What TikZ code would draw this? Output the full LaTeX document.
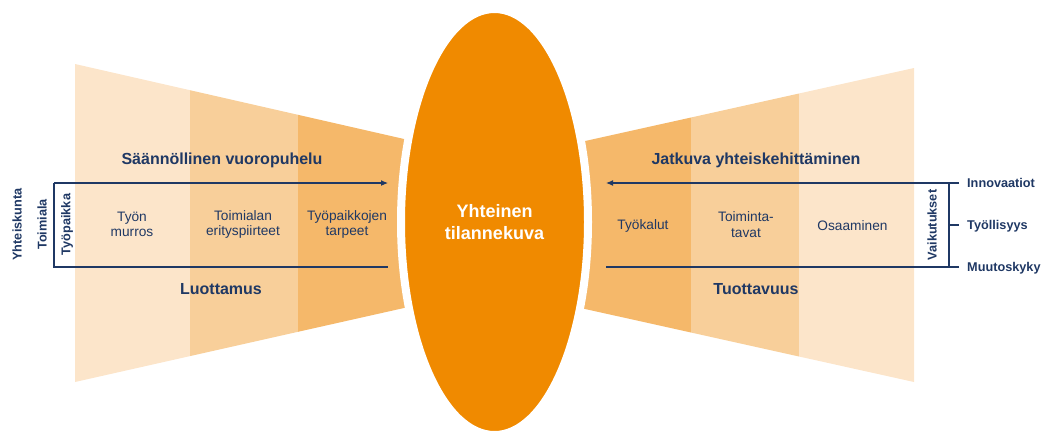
\documentclass[tikz,border=0pt]{standalone}
\usepackage{fontspec}
\setmainfont{Liberation Sans}
\usetikzlibrary{arrows.meta,shapes.geometric}
\definecolor{navy}{RGB}{31,56,100}
\definecolor{cLight}{RGB}{252,229,202}
\definecolor{cMed}{RGB}{248,207,154}
\definecolor{cDark}{RGB}{245,184,106}
\definecolor{cOrange}{RGB}{240,138,0}
\begin{document}
\begin{tikzpicture}[x=1pt,y=-1pt,
  hd/.style={text=navy,font=\fontsize{16}{19}\selectfont\bfseries,inner sep=0pt},
  body/.style={text=navy,font=\fontsize{13.7}{15.5}\selectfont,align=center,inner sep=0pt},
  side/.style={text=navy,font=\fontsize{12.7}{14}\selectfont\bfseries,inner sep=0pt},
  ln/.style={draw=navy,line width=1.1pt},
  tip/.style={-{Latex[length=7pt,width=6pt]}}]
\useasboundingbox (0,0) rectangle (1041,432);
% left trapezoid
\fill[cLight] (75,64) -- (190,90.2) -- (190,356.1) -- (75,382) -- cycle;
\fill[cMed] (190,90.2) -- (298,114.8) -- (298,331.8) -- (190,356.1) -- cycle;
\fill[cDark] (298,114.8) -- (412,140.8) -- (412,306.2) -- (298,331.8) -- cycle;
% right trapezoid
\fill[cDark] (577,142.8) -- (691,117.5) -- (691,332.5) -- (577,307.2) -- cycle;
\fill[cMed] (691,117.5) -- (799,93.5) -- (799,356.5) -- (691,332.5) -- cycle;
\fill[cLight] (799,93.5) -- (914,68) -- (914,382) -- (799,356.5) -- cycle;
% central ellipse
\node[ellipse,fill=cOrange,draw=white,line width=8pt,minimum width=187pt,minimum height=426pt,inner sep=0pt,
  text=white,font=\fontsize{18}{22}\selectfont\bfseries,align=center] (core) at (494.5,222) {Yhteinen\\tilannekuva};
% left texts
\node[hd] (sv) at (222,160) {Säännöllinen vuoropuhelu};
\node[hd] (lu) at (221,289) {Luottamus};
\node[body] (tm) at (132,224.5) {Työn\\murros};
\node[body] (te) at (243,224.5) {Toimialan\\erityspiirteet};
\node[body] (tt) at (347,224.5) {Työpaikkojen\\tarpeet};
\node[side,rotate=90] (tp) at (67,224.5) {Työpaikka};
\node[side,rotate=90] (ti) at (42,224.5) {Toimiala};
\node[side,rotate=90] (yk) at (17,224.5) {Yhteiskunta};
% left lines
\coordinate (la0) at (54,183);
\coordinate (la1) at (388,183);
\coordinate (lb0) at (54,267);
\coordinate (lb1) at (388,267);
\draw[ln,tip] (la0) -- (la1);
\draw[ln] (la0) -- (lb0) -- (lb1);
% right texts
\node[hd] (jy) at (756,160) {Jatkuva yhteiskehittäminen};
\node[hd] (tu) at (756,289) {Tuottavuus};
\node[body] (tk) at (643,226) {Työkalut};
\node[body] (tv) at (746,224.5) {Toiminta-\\tavat};
\node[body] (os) at (852.5,226) {Osaaminen};
\node[side,rotate=90] (va) at (932,225) {Vaikutukset};
\node[side,anchor=west] (in) at (967,183) {Innovaatiot};
\node[side,anchor=west] (ty) at (967,226) {Työllisyys};
\node[side,anchor=west] (mu) at (967,268) {Muutoskyky};
% right lines
\coordinate (ra0) at (959,183);
\coordinate (ra1) at (606,183);
\coordinate (rb0) at (959,267);
\coordinate (rb1) at (606,267);
\coordinate (rv0) at (949,183);
\coordinate (rv1) at (949,267);
\coordinate (rm0) at (949,225);
\coordinate (rm1) at (959,225);
\draw[ln,tip] (ra0) -- (ra1);
\draw[ln] (rb0) -- (rb1);
\draw[ln] (rv0) -- (rv1);
\draw[ln] (rm0) -- (rm1);
\end{tikzpicture}
\end{document}
